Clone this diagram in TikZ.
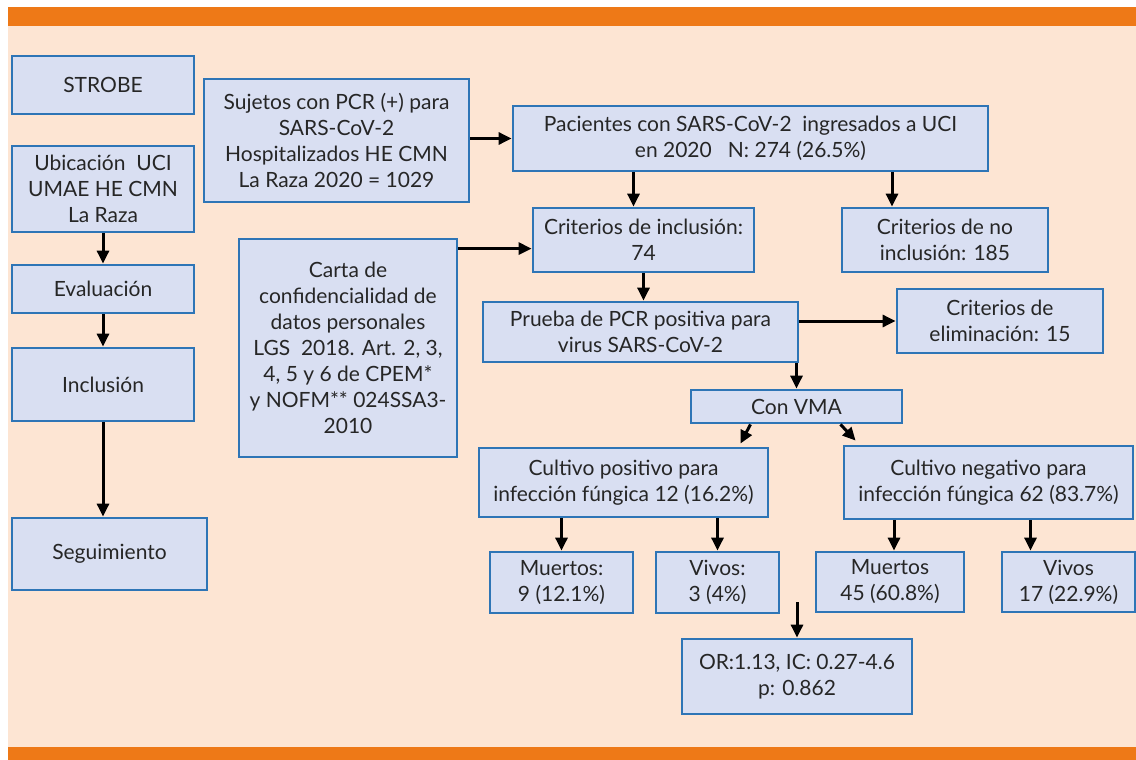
\documentclass[tikz,border=0pt]{standalone}
\usepackage{fontspec}
\setmainfont{Lato}
\usepackage{xcolor}
\usetikzlibrary{shapes,arrows.meta,positioning}

\definecolor{bandorange}{HTML}{EE7917}
\definecolor{peach}{HTML}{FDE5D3}
\definecolor{boxfill}{HTML}{D9DFF2}
\definecolor{boxline}{HTML}{2E75B6}

\begin{document}
\begin{tikzpicture}[
    x=0.5pt, y=-0.5pt,
    block/.style={rectangle, draw=boxline, fill=boxfill, line width=1.4pt, align=center, inner sep=0pt, font=\fontsize{10.5}{13}\selectfont, text=black!85},
    arrow/.style={-{Triangle[length=6.5pt,width=6pt]}, line width=1.5pt, draw=black}
]

% Frame
\useasboundingbox (0,0) rectangle (1136,760);
\fill[peach] (8,7) rectangle (1136,760);
\fill[bandorange] (8,7) rectangle (1136,26);
\fill[bandorange] (8,747) rectangle (1136,760);

% Left column
\node[block, minimum width=91pt, minimum height=29pt] (strobe) at (103,85) {STROBE};
\node[block, minimum width=91pt, minimum height=43pt] (ubicacion) at (103,189) {Ubicación\ \ UCI\\UMAE HE CMN\\La Raza};
\node[block, minimum width=91pt, minimum height=24pt] (evaluacion) at (103,289) {Evaluación};
\node[block, minimum width=91pt, minimum height=36.5pt] (inclusion) at (103,384.5) {Inclusión};
\node[block, minimum width=97.5pt, minimum height=36pt] (seguimiento) at (109.5,554) {Seguimiento};

% Nodes
\node[block, minimum width=132.5pt, minimum height=61.5pt] (sujetos) at (336.5,140.5) {Sujetos con PCR (+) para\\SARS-CoV-2\\Hospitalizados HE CMN\\La Raza 2020 = 1029};
\node[block, minimum width=237.5pt, minimum height=32.5pt] (pacientes) at (750.5,138.5) {Pacientes con SARS-CoV-2\ \ ingresados a UCI\\en 2020\ \ \ N: 274 (26.5\%)};
\node[block, minimum width=110.5pt, minimum height=32pt] (critincl) at (643.5,240) {Criterios de inclusión:\\74};
\node[block, minimum width=103pt, minimum height=32pt] (critnoincl) at (945,240) {Criterios de no\\inclusión: 185};
\node[block, minimum width=109pt, minimum height=109pt] (carta) at (348,348) {Carta de\\confidencialidad de\\datos personales\\LGS\ \ 2018. Art. 2, 3,\\4, 5 y 6 de CPEM*\\y NOFM** 024SSA3-\\2010};
\node[block, minimum width=157.5pt, minimum height=30pt] (prueba) at (640.5,332) {Prueba de PCR positiva para\\virus SARS-CoV-2};
\node[block, minimum width=103pt, minimum height=32pt] (critelim) at (1000,321) {Criterios de\\eliminación: 15};
\node[block, minimum width=105.5pt, minimum height=16.5pt] (vma) at (796.5,406.5) {Con VMA};
\node[block, minimum width=144.5pt, minimum height=34.5pt] (cultpos) at (623.5,482.5) {Cultivo positivo para\\infección fúngica 12 (16.2\%)};
\node[block, minimum width=144.5pt, minimum height=36.5pt] (cultneg) at (988.5,482.5) {Cultivo negativo para\\infección fúngica 62 (83.7\%)};
\node[block, minimum width=71.5pt, minimum height=30.5pt] (muertospos) at (561.5,582.5) {Muertos:\\9 (12.1\%)};
\node[block, minimum width=61.5pt, minimum height=30.5pt] (vivospos) at (717.5,582.5) {Vivos:\\3 (4\%)};
\node[block, minimum width=74pt, minimum height=30pt] (muertosneg) at (890,582) {Muertos\\45 (60.8\%)};
\node[block, minimum width=66.5pt, minimum height=30pt] (vivosneg) at (1068.5,582) {Vivos\\17 (22.9\%)};
\node[block, minimum width=115pt, minimum height=37.5pt] (oddsratio) at (797,676.5) {OR:1.13, IC: 0.27-4.6\\p: 0.862};
\coordinate (orin) at (797,602);

% Arrows
\draw[arrow] (ubicacion) -- (evaluacion);
\draw[arrow] (evaluacion) -- (inclusion);
\draw[arrow] (inclusion.south) -- (inclusion.south |- seguimiento.north);
\draw[arrow] (pacientes.west -| sujetos.east) -- (pacientes.west);
\draw[arrow] ([xshift=-5pt]critincl.north |- pacientes.south) -- ([xshift=-5pt]critincl.north);
\draw[arrow] ([xshift=-26.5pt]critnoincl.north |- pacientes.south) -- ([xshift=-26.5pt]critnoincl.north);
\draw[arrow] ([yshift=-5.5pt]carta.north east) -- ([yshift=-5.5pt]carta.north east -| critincl.west);
\draw[arrow] (critincl.south) -- (critincl.south |- prueba.north);
\draw[arrow] ([yshift=5.5pt]prueba.east) -- ([yshift=5.5pt]prueba.east -| critelim.west);
\draw[arrow] (prueba.south -| vma.north) -- (vma.north);
\draw[arrow] ([xshift=-23pt]vma.south) -- ([xshift=-14.5pt,yshift=1.5pt]cultpos.north east);
\draw[arrow] ([xshift=22pt]vma.south) -- ([xshift=6.5pt,yshift=2pt]cultneg.north west);
\draw[arrow] (muertospos.north |- cultpos.south) -- (muertospos.north);
\draw[arrow] (vivospos.north |- cultpos.south) -- (vivospos.north);
\draw[arrow] ([xshift=2pt]muertosneg.north |- cultneg.south) -- ([xshift=2pt]muertosneg.north);
\draw[arrow] ([xshift=-19pt]vivosneg.north |- cultneg.south) -- ([xshift=-19pt]vivosneg.north);
\draw[arrow] (orin) -- (oddsratio);

\end{tikzpicture}
\end{document}
